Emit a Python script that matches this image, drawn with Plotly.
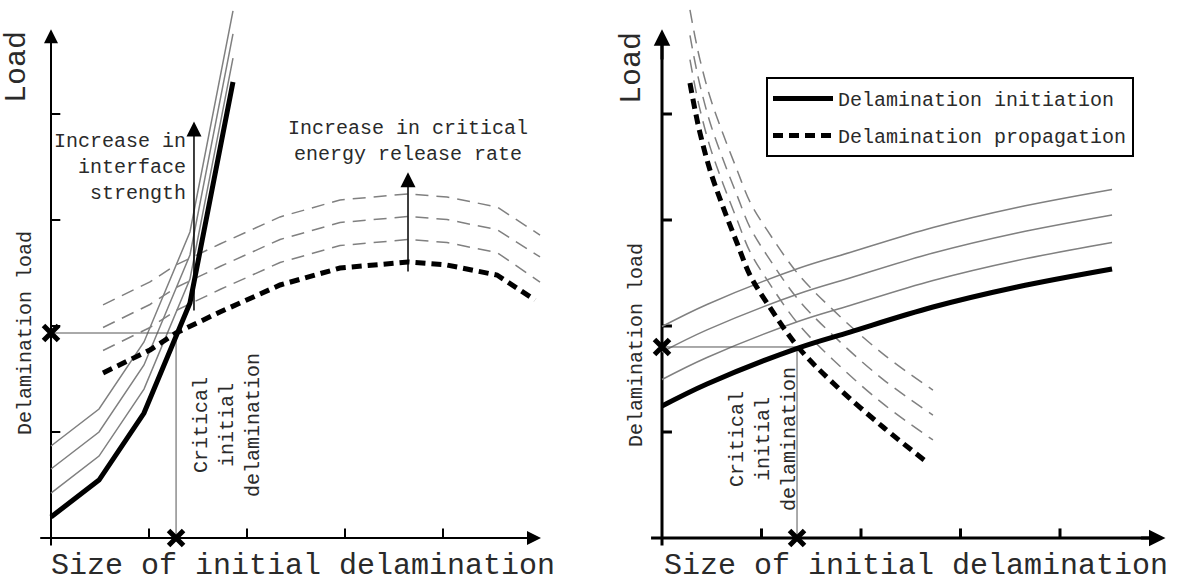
import plotly.graph_objects as go

FONT = "Courier New, Liberation Mono, monospace"
W, H = 1180, 583

# ---------------- data (axis units: one tick spacing = 1) ----------------
x_ticks = [1, 2, 3, 4]
y_ticks = [1, 2, 3, 4]

# Left panel: delamination initiation, increasing interface strength
L_init_x = [0.0, 0.49, 0.949, 1.418, 1.857]
L_init_y = [0.198, 0.547, 1.179, 2.217, 4.302]
L_init_g1 = [0.424, 0.773, 1.405, 2.443, 4.528]
L_init_g2 = [0.651, 1.000, 1.632, 2.670, 4.755]
L_init_g3 = [0.868, 1.217, 1.849, 2.887, 4.972]

# Left panel: delamination propagation, increasing critical energy release rate
L_prop_x = [0.531, 1.010, 1.276, 1.724, 2.337, 2.949, 3.643, 4.041, 4.551, 4.939]
L_prop_y = [1.557, 1.774, 1.934, 2.132, 2.387, 2.547, 2.604, 2.575, 2.481, 2.245]
L_prop_gx = [0.531, 1.010, 1.276, 1.724, 2.337, 2.949, 3.643, 4.041, 4.551, 4.990]
L_prop_g1 = [1.769, 1.986, 2.146, 2.344, 2.599, 2.759, 2.816, 2.787, 2.693, 2.415]
L_prop_g2 = [1.986, 2.203, 2.363, 2.561, 2.816, 2.976, 3.033, 3.004, 2.910, 2.651]
L_prop_g3 = [2.199, 2.416, 2.576, 2.774, 3.029, 3.189, 3.246, 3.217, 3.123, 2.858]
L_crit = (1.276, 1.934)

# Right panel: delamination initiation family
R_init_x = [0.0, 0.452, 1.367, 1.889, 2.724, 3.568, 4.523]
R_init_y = [1.245, 1.453, 1.792, 1.943, 2.179, 2.368, 2.538]
R_init_g1 = [1.495, 1.703, 2.042, 2.193, 2.429, 2.618, 2.788]
R_init_g2 = [1.755, 1.963, 2.302, 2.453, 2.689, 2.878, 3.048]
R_init_g3 = [1.995, 2.203, 2.542, 2.693, 2.929, 3.118, 3.288]

# Right panel: delamination propagation family
R_prop_x = [0.281, 0.332, 0.382, 0.482, 0.613, 0.754, 0.884, 1.055, 1.367, 1.719, 2.221, 2.673]
R_prop_y = [4.292, 4.038, 3.821, 3.472, 3.123, 2.783, 2.481, 2.217, 1.802, 1.462, 1.047, 0.708]
R_prop_gx = [0.281, 0.332, 0.382, 0.482, 0.613, 0.754, 0.884, 1.055, 1.367, 1.719, 2.221, 2.723]
R_prop_g1 = [4.512, 4.258, 4.041, 3.692, 3.343, 3.003, 2.701, 2.437, 2.022, 1.682, 1.267, 0.925]
R_prop_g2 = [4.742, 4.488, 4.271, 3.922, 3.573, 3.233, 2.931, 2.667, 2.252, 1.912, 1.497, 1.160]
R_prop_g3 = [4.982, 4.728, 4.511, 4.162, 3.813, 3.473, 3.171, 2.907, 2.492, 2.152, 1.737, 1.396]
R_crit = (1.357, 1.802)

X_LABEL = "Size of initial delamination"
Y_LABEL = "Load"
Y_LABEL2 = "Delamination load"
CRIT_LABEL = "Critical<br>initial<br>delamination"

# ---------------- figure ----------------
fig = go.Figure()
GRAY = "#808080"
TXT = "#2a2a2a"


def line(xs, ys, ax, color="black", width=1.5, dash="solid", shape="linear", name=None, legend=False, group=None):
    xa, ya = ax
    fig.add_trace(go.Scatter(x=xs, y=ys, xaxis=xa, yaxis=ya, mode="lines",
                             line=dict(color=color, width=width, dash=dash, shape=shape),
                             name=name, showlegend=legend, legendgroup=group,
                             hoverinfo="skip"))


def axes_frame(ax, x_end, y_end, lw, tick_len_x, tick_len_y):
    # axis lines
    line([-0.11, x_end], [0, 0], ax, width=lw)
    line([0, 0], [-0.07, y_end], ax, width=lw)
    # ticks
    tx, ty = [], []
    for t in x_ticks:
        tx += [t, t, None]
        ty += [0, tick_len_y, None]
    for t in y_ticks:
        tx += [0, tick_len_x, None]
        ty += [t, t, None]
    line(tx, ty, ax, width=lw)


L = ("x", "y")
R = ("x2", "y2")

# Left panel
axes_frame(L, 4.95, 4.70, 2, 0.095, 0.09)
for g in (L_init_g1, L_init_g2, L_init_g3):
    line(L_init_x, g, L, color=GRAY, width=1.5)
for g in (L_prop_g1, L_prop_g2, L_prop_g3):
    line(L_prop_gx, g, L, color=GRAY, width=1.5, dash="13px,8px")
line([0, L_crit[0], L_crit[0]], [L_crit[1], L_crit[1], 0], L, color="#555", width=1)
line(L_init_x, L_init_y, L, width=5)
line(L_prop_x, L_prop_y, L, width=5, dash="10px,6px")
fig.add_trace(go.Scatter(x=[0, L_crit[0]], y=[L_crit[1], 0], xaxis="x", yaxis="y", mode="markers",
                         marker=dict(symbol="x-thin", size=15, line=dict(width=5, color="black")),
                         showlegend=False, hoverinfo="skip", cliponaxis=False))

# Right panel
axes_frame(R, 4.98, 4.70, 3, 0.1, 0.09)
for g in (R_init_g1, R_init_g2, R_init_g3):
    line(R_init_x, g, R, color=GRAY, width=1.5, shape="spline")
for g in (R_prop_g1, R_prop_g2, R_prop_g3):
    line(R_prop_gx, g, R, color=GRAY, width=1.5, dash="13px,8px", shape="spline")
line([0, R_crit[0], R_crit[0]], [R_crit[1], R_crit[1], 0], R, color="#555", width=1)
line(R_init_x, R_init_y, R, width=5, shape="spline", name="Delamination initiation", legend=True, group="a")
line(R_prop_x, R_prop_y, R, width=5, dash="10px,6px", shape="spline", name="Delamination propagation",
     legend=True, group="b")
fig.add_trace(go.Scatter(x=[0, R_crit[0]], y=[R_crit[1], 0], xaxis="x2", yaxis="y2", mode="markers",
                         marker=dict(symbol="x-thin", size=15, line=dict(width=5, color="black")),
                         showlegend=False, hoverinfo="skip", cliponaxis=False))

# ---------------- layout ----------------
YR = [-45 / 106, 538 / 106]
fig.update_layout(
    width=W, height=H, margin=dict(l=0, r=0, t=0, b=0),
    paper_bgcolor="white", plot_bgcolor="white",
    xaxis=dict(domain=[0, 0.5], range=[-51 / 98, 539 / 98], visible=False, fixedrange=True),
    yaxis=dict(domain=[0, 1], range=YR, visible=False, fixedrange=True),
    xaxis2=dict(domain=[0.5, 1], range=[-72 / 99.5, 518 / 99.5], visible=False, fixedrange=True),
    yaxis2=dict(domain=[0, 1], range=YR, visible=False, fixedrange=True, anchor="x2"),
    legend=dict(x=766 / W, y=1 - 77 / H, xanchor="left", yanchor="top",
                bordercolor="black", borderwidth=2, bgcolor="white",
                font=dict(family=FONT, size=20, color=TXT),
                itemwidth=60, tracegroupgap=8, traceorder="grouped"),
    font=dict(family=FONT, color=TXT),
)


def P(px, py):
    return px / W, 1 - py / H


def text(px, py, s, size=20, angle=0, align="center", xanchor="center"):
    x, y = P(px, py)
    fig.add_annotation(x=x, y=y, xref="paper", yref="paper", text=s, showarrow=False,
                       textangle=angle, align=align, xanchor=xanchor, yanchor="middle",
                       font=dict(family=FONT, size=size, color=TXT))


def arrow(ax, x0, y0, x1, y1, width, size):
    xa, ya = ax
    fig.add_annotation(x=x1, y=y1, ax=x0, ay=y0, xref=xa, yref=ya, axref=xa, ayref=ya,
                       text="", showarrow=True, arrowhead=2, arrowsize=size, arrowwidth=width,
                       arrowcolor="black", standoff=0)


# axis arrowheads
arrow(L, 4.7, 0, 5.0, 0, 2, 1.4)
arrow(L, 0, 4.5, 0, 4.80, 2, 1.4)
arrow(R, 4.8, 0, 5.06, 0, 3, 1.1)
arrow(R, 0, 4.5, 0, 4.80, 3, 1.1)

# "increase" arrows in left panel
arrow(L, 1.459, 2.132, 1.459, 3.93, 1.5, 2)
arrow(L, 3.643, 2.5, 3.643, 3.45, 1.5, 2)

# axis titles
text(303, 566, X_LABEL, size=30)
text(916, 566, X_LABEL, size=30)
text(17, 67, Y_LABEL, size=30, angle=-90)
text(632, 68, Y_LABEL, size=30, angle=-90)
text(25, 333, Y_LABEL2, angle=-90)
text(636, 345, Y_LABEL2, angle=-90)
text(227, 425, CRIT_LABEL, angle=-90)
text(763, 439, CRIT_LABEL, angle=-90)
text(188, 167, "Increase in<br>interface<br>strength", align="right", xanchor="right")
text(408, 141, "Increase in critical<br>energy release rate")

fig.write_html("out.html")
